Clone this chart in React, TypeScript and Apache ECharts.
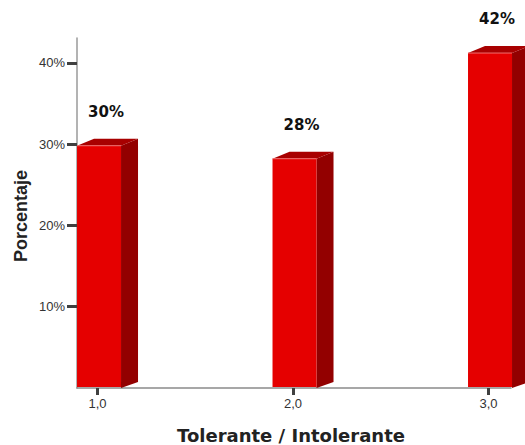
import React, { useEffect, useRef } from "react";
import * as echarts from "echarts";

const categories = [1, 2, 3];
const xTickLabels = ["1,0", "2,0", "3,0"];
const percentages = [29.8, 28.2, 41.2];
const barLabels = ["30%", "28%", "42%"];
const yTicks = [10, 20, 30, 40];

const FRONT = "#e50000";
const TOP = "#a80000";
const SIDE = "#930000";
const ARIAL = "Liberation Sans";

export default function App() {
  const ref = useRef<HTMLDivElement>(null);
  useEffect(() => {
    if (!ref.current) return;
    const chart = echarts.init(ref.current, null, { renderer: "svg" });
    const data = categories.map((c, i) => [c, percentages[i], i]);
    const dx = 17;
    const dy = -7;
    const option: any = {
      animation: false,
      grid: { left: 77, right: 14, top: 38, bottom: 57 },
      xAxis: {
        type: "value",
        min: 0.895,
        max: 3.115,
        splitLine: { show: false },
        axisLine: { show: true, lineStyle: { color: "#8a8a8a", width: 1.5 } },
        axisTick: {
          show: true,
          customValues: categories,
          length: 7,
          lineStyle: { color: "#404040", width: 3 },
        },
        axisLabel: {
          customValues: categories,
          formatter: (v: number) => xTickLabels[categories.indexOf(v)] ?? "",
          margin: 9,
          fontSize: 13,
          color: "#333",
          fontFamily: ARIAL,
        },
      },
      yAxis: {
        type: "value",
        min: 0,
        max: 43.05,
        splitLine: { show: false },
        axisLine: { show: true, lineStyle: { color: "#9a9a9a", width: 1.5 } },
        axisTick: {
          show: true,
          customValues: yTicks,
          length: 10,
          lineStyle: { color: "#404040", width: 3 },
        },
        axisLabel: {
          customValues: yTicks,
          formatter: "{value}%",
          margin: 12,
          fontSize: 13,
          color: "#333",
          fontFamily: ARIAL,
        },
      },
      series: [
        {
          type: "custom",
          clip: false,
          data,
          renderItem: (params: any, api: any) => {
            const x = api.value(0);
            const v = api.value(1);
            const idx = api.value(2);
            const top = api.coord([x, v]);
            const bot = api.coord([x, 0]);
            const w = 44;
            const left = top[0] - 20.5;
            const right = left + w;
            return {
              type: "group",
              children: [
                {
                  type: "polygon",
                  shape: {
                    points: [
                      [right, top[1]],
                      [right + dx, top[1] + dy],
                      [right + dx, bot[1] + dy + 1],
                      [right, bot[1]],
                    ],
                  },
                  style: { fill: SIDE },
                },
                {
                  type: "polygon",
                  shape: {
                    points: [
                      [left, top[1]],
                      [left + dx, top[1] + dy],
                      [right + dx, top[1] + dy],
                      [right, top[1]],
                    ],
                  },
                  style: { fill: TOP },
                },
                {
                  type: "rect",
                  shape: { x: left, y: top[1], width: w, height: bot[1] - top[1] - 1 },
                  style: { fill: FRONT },
                },
                {
                  type: "line",
                  shape: { x1: left, y1: top[1], x2: right, y2: top[1] },
                  style: { stroke: "#f07070", lineWidth: 1 },
                },
                {
                  type: "text",
                  x: top[0] + 8.5,
                  y: top[1] - 34,
                  style: {
                    text: barLabels[idx],
                    fill: "#111",
                    fontFamily: "DejaVu Sans",
                    fontWeight: "bold",
                    fontSize: 15,
                    align: "center",
                    verticalAlign: "middle",
                  },
                },
              ],
            };
          },
        },
      ],
      graphic: [
        {
          type: "text",
          x: 21,
          y: 216,
          rotation: Math.PI / 2,
          style: {
            text: "Porcentaje",
            fill: "#222",
            fontFamily: ARIAL,
            fontWeight: "bold",
            fontSize: 18,
            align: "center",
            verticalAlign: "middle",
          },
        },
        {
          type: "text",
          x: 291,
          y: 435,
          style: {
            text: "Tolerante / Intolerante",
            fill: "#222",
            fontFamily: "DejaVu Sans",
            fontWeight: "bold",
            fontSize: 18,
            align: "center",
            verticalAlign: "middle",
          },
        },
      ],
    };
    chart.setOption(option);
    return () => chart.dispose();
  }, []);
  return (
    <div
      ref={ref}
      style={{ position: "fixed", left: 0, top: 0, width: 525, height: 445, background: "#fff" }}
    />
  );
}
